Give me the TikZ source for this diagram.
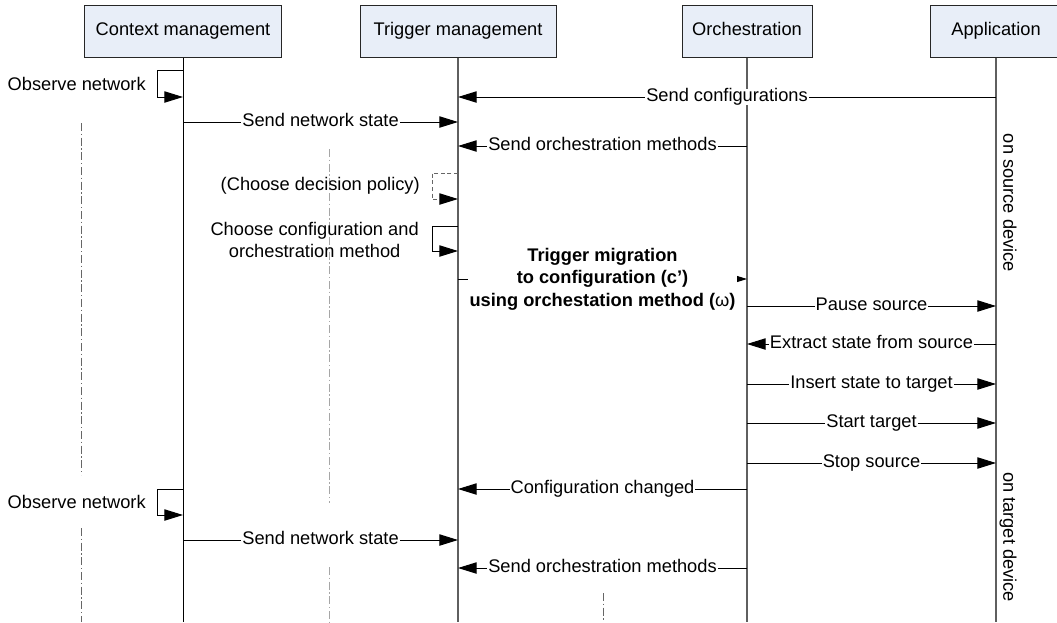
\documentclass[tikz,border=0pt]{standalone}
\usepackage{fontspec}
\setmainfont{Liberation Sans}
\usetikzlibrary{arrows.meta}
\definecolor{headfill}{RGB}{232,238,248}
\definecolor{lifegray}{RGB}{95,95,95}

\begin{document}
\begin{tikzpicture}[x=0.75pt,y=-0.75pt,
  font=\fontsize{13.7}{16.9}\selectfont,
  head/.style={draw=black!85, line width=0.75pt, fill=headfill,
    minimum height=39pt, inner sep=0pt, text height=0.9em, text depth=0.21em},
  life/.style={line width=0.9pt, draw=lifegray},
  msg/.style={line width=0.75pt, draw=black,
    -{Triangle[length=14pt,width=8.5pt]}},
  optmsg/.style={line width=0.75pt, draw=black!60, dash pattern=on 3pt off 2pt,
    -{Triangle[length=14pt,width=8.5pt,color=black]}},
  lbl/.style={fill=white, inner sep=0.8pt, text height=0.9em, text depth=0.21em},
  boldlbl/.style={fill=white, inner sep=1.2pt, align=center, font=\fontsize{13.7}{16.9}\selectfont\bfseries},
  note/.style={inner sep=0pt, align=center},
  side/.style={inner sep=0pt, rotate=-90, text height=0.9em, text depth=0.21em},
  ghost/.style={line width=0.75pt, dash pattern=on 6pt off 2pt on 1pt off 2pt}
]
\useasboundingbox (0,0) rectangle (1057,622);
\clip (0,0) rectangle (1057,622);

% faint dash-dot guide lines
\draw[ghost, draw=black!60] (81,123) -- (81,475);
\draw[ghost, draw=black!60] (81,528) -- (81,622);
\draw[ghost, draw=black!35] (329,149) -- (329,503);
\draw[ghost, draw=black!35] (329,567) -- (329,622);
\draw[ghost, draw=black!60] (603,593) -- (603,622);

% participants
\node[head, minimum width=147.75pt] (ctx) at (183,31) {Context management};
\node[head, minimum width=147pt]    (trg) at (458,31) {Trigger management};
\node[head, minimum width=97.5pt]   (orc) at (747,31) {Orchestration};
\node[head, minimum width=99pt]     (app) at (996,31) {Application};

% lifelines
\coordinate (bottom) at (0,622);
\draw[line width=0.75pt, draw=black] (ctx.south) -- (ctx.south |- bottom);
\foreach \n in {trg,orc,app}{
  \draw[life] (\n.south) -- (\n.south |- bottom);
}

% anchor points on the lifelines for every message row
\foreach \n in {ctx,trg,orc,app}{
  \foreach \r in {70,97,122,146,173,199,226,251,279,306,344,384,423,463,489,515,540,568}{
    \coordinate (\n-\r) at (\n.south |- 0,\r);
  }
}

% first round
\draw[msg] (ctx-70) -- ++(-26,0) |- (ctx-97);
\node[note, anchor=east] (obs1) at (146,84) {Observe network};
\draw[msg] (app-97) -- node[lbl] (m1) {Send configurations} (trg-97);
\draw[msg] (ctx-122) -- node[lbl] (m2) {Send network state} (trg-122);
\draw[msg] (orc-146) -- node[lbl] (m3) {Send orchestration methods} (trg-146);

% decisions inside trigger management
\draw[optmsg] (trg-173) -- ++(-26,0) |- (trg-199);
\node[note, anchor=east] (pol) at (420,186) {(Choose decision policy)};
\draw[msg] (trg-226) -- ++(-26,0) |- (trg-251);
\node[note, anchor=east] (cfg) at (419,240) {Choose configuration and\\orchestration method};

\draw[msg] (trg-279) -- node[boldlbl] (mig)
  {Trigger migration\\to configuration (c’)\\using orchestation method ({\mdseries ω})} (orc-279);

% migration steps
\draw[msg] (orc-306) -- node[lbl] (s1) {Pause source} (app-306);
\draw[msg] (app-344) -- node[lbl] (s2) {Extract state from source} (orc-344);
\draw[msg] (orc-384) -- node[lbl] (s3) {Insert state to target} (app-384);
\draw[msg] (orc-423) -- node[lbl] (s4) {Start target} (app-423);
\draw[msg] (orc-463) -- node[lbl] (s5) {Stop source} (app-463);

% second round
\draw[msg] (orc-489) -- node[lbl] (m4) {Configuration changed} (trg-489);
\draw[msg] (ctx-489) -- ++(-26,0) |- (ctx-515);
\node[note, anchor=east] (obs2) at (146,502) {Observe network};
\draw[msg] (ctx-540) -- node[lbl] (m5) {Send network state} (trg-540);
\draw[msg] (orc-568) -- node[lbl] (m6) {Send orchestration methods} (trg-568);

% device annotations beside the application lifeline
\node[side] (srcdev) at (1008,203) {on source device};
\node[side] (tgtdev) at (1008,537) {on target device};
\end{tikzpicture}
\end{document}
